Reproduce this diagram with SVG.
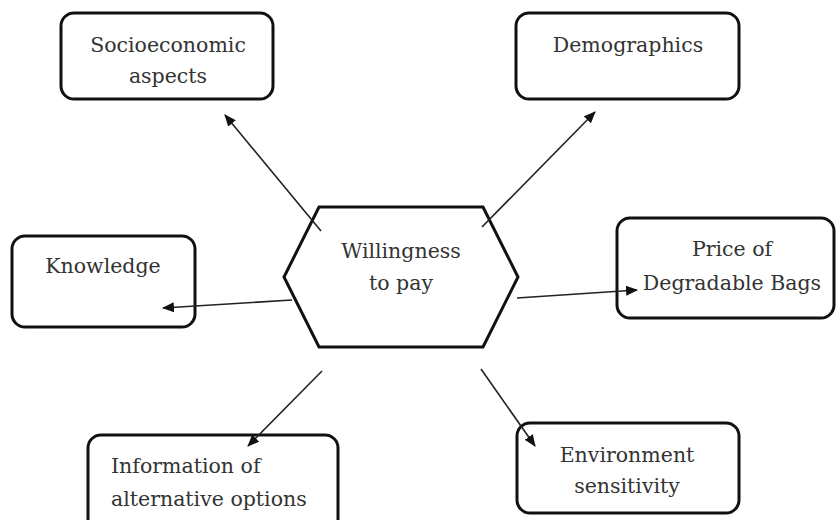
<svg xmlns="http://www.w3.org/2000/svg" width="838" height="520" viewBox="0 0 838 520">
<style>
.box{fill:#fff;stroke:#111;stroke-width:3}
.t{font-family:"DejaVu Serif",serif;font-size:20.5px;fill:#333}
.c{text-anchor:middle}
.ln{stroke:#222;stroke-width:1.6;fill:none}
</style>
<defs>
<marker id="ah" viewBox="0 0 12 10" refX="11" refY="5" markerWidth="12" markerHeight="10" markerUnits="userSpaceOnUse" orient="auto">
<path d="M0,0 L12,5 L0,10 z" fill="#111"/>
</marker>
</defs>
<rect width="838" height="520" fill="#fff"/>
<g id="socioeconomic">
<rect class="box" x="61" y="13" width="212" height="86" rx="13"/>
<text class="t c" x="168" y="52">Socioeconomic</text>
<text class="t c" x="168" y="83">aspects</text>
</g>
<g id="demographics">
<rect class="box" x="516" y="13" width="223" height="86" rx="13"/>
<text class="t c" x="628" y="52">Demographics</text>
</g>
<g id="wtp">
<polygon class="box" points="319,207 483,207 518,277 483,347 319,347 284,277"/>
<text class="t c" x="401" y="258">Willingness</text>
<text class="t c" x="401" y="290">to pay</text>
</g>
<g id="knowledge">
<rect class="box" x="12" y="236" width="183" height="91" rx="13"/>
<text class="t c" x="103" y="273">Knowledge</text>
</g>
<g id="price">
<rect class="box" x="617" y="218" width="217" height="100" rx="13"/>
<text class="t c" x="732" y="256">Price of</text>
<text class="t c" x="732" y="290">Degradable Bags</text>
</g>
<g id="information">
<rect class="box" x="88" y="435" width="250" height="100" rx="13"/>
<text class="t" x="111" y="473">Information of</text>
<text class="t" x="111" y="506">alternative options</text>
</g>
<g id="environment">
<rect class="box" x="517" y="423" width="222" height="90" rx="13"/>
<text class="t c" x="627" y="462">Environment</text>
<text class="t c" x="627" y="493">sensitivity</text>
</g>
<g id="connectors">
<line class="ln" x1="321" y1="231" x2="225" y2="115" marker-end="url(#ah)"/>
<line class="ln" x1="482" y1="227" x2="595" y2="112" marker-end="url(#ah)"/>
<line class="ln" x1="292" y1="300" x2="163" y2="308" marker-end="url(#ah)"/>
<line class="ln" x1="517" y1="298" x2="637" y2="290" marker-end="url(#ah)"/>
<line class="ln" x1="322" y1="371" x2="248" y2="446" marker-end="url(#ah)"/>
<line class="ln" x1="481" y1="369" x2="535" y2="446" marker-end="url(#ah)"/>
</g>
</svg>
